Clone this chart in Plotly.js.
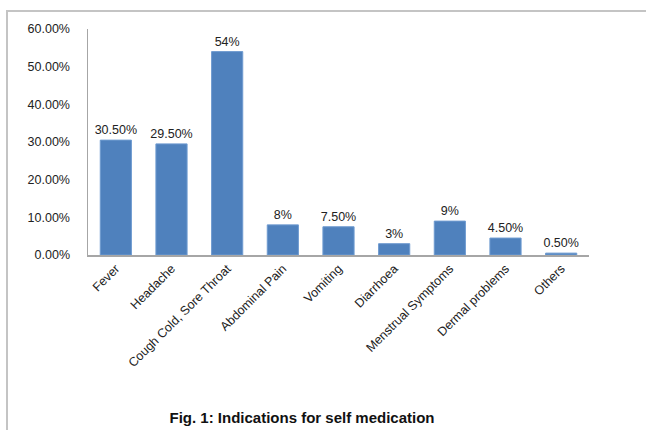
<!DOCTYPE html>
<html>
<head>
<meta charset="utf-8">
<script src="https://cdn.plot.ly/plotly-3.0.1.min.js"></script>
<style>
html,body{margin:0;padding:0;background:#fff;}
#wrap{position:relative;width:646px;height:430px;}
#chart{width:646px;height:430px;}
#frame{position:absolute;left:6px;top:10px;width:640px;height:420px;border-left:2px solid #c4c4c4;border-top:2px solid #c4c4c4;box-sizing:border-box;pointer-events:none;}
</style>
</head>
<body>
<div id="wrap">
<div id="chart"></div>
<div id="frame"></div>
</div>
<script>
const categories = ["Fever", "Headache", "Cough Cold, Sore Throat", "Abdominal Pain", "Vomiting", "Diarrhoea", "Menstrual Symptoms", "Dermal problems", "Others"];
const values = [30.5, 29.5, 54, 8, 7.5, 3, 9, 4.5, 0.5];
const valueLabels = ["30.50%", "29.50%", "54%", "8%", "7.50%", "3%", "9%", "4.50%", "0.50%"];
const tickValues = [0, 10, 20, 30, 40, 50, 60];
const tickLabels = ["0.00%", "10.00%", "20.00%", "30.00%", "40.00%", "50.00%", "60.00%"];
const caption = "Fig. 1: Indications for self medication";

const trace = {
  type: "bar",
  x: categories,
  y: values,
  text: valueLabels,
  textposition: "outside",
  constraintext: "none",
  cliponaxis: false,
  textfont: {family: "Liberation Sans, Arial, sans-serif", size: 12.5, color: "#222"},
  marker: {color: "#4F81BD", line: {color: "#6f9bd0", width: 1}},
  hoverinfo: "none"
};

const layout = {
  width: 646,
  height: 430,
  margin: {l: 88, r: 57, t: 29, b: 175},
  paper_bgcolor: "#fff",
  plot_bgcolor: "#fff",
  bargap: 0.44,
  showlegend: false,
  font: {family: "Liberation Sans, Arial, sans-serif", size: 12, color: "#222"},
  title: {
    text: "<b>" + caption + "</b>",
    font: {family: "Liberation Sans, Arial, sans-serif", size: 15, color: "#111"},
    x: 302 / 646,
    xanchor: "center",
    xref: "container",
    y: 1 - 418 / 430,
    yanchor: "middle",
    yref: "container"
  },
  xaxis: {
    type: "category",
    tickangle: -45,
    showline: true,
    linecolor: "#a6a6a6",
    linewidth: 1.5,
    ticks: "",
    showgrid: false,
    zeroline: false,
    tickfont: {family: "Liberation Sans, Arial, sans-serif", size: 12.5, color: "#222"},
    automargin: false
  },
  yaxis: {
    range: [0, 60],
    tickvals: tickValues,
    ticktext: tickLabels,
    showline: true,
    linecolor: "#a6a6a6",
    linewidth: 1.5,
    ticks: "",
    ticklabelstandoff: 14,
    showgrid: false,
    zeroline: false,
    tickfont: {family: "Liberation Sans, Arial, sans-serif", size: 12.5, color: "#222"},
    automargin: false
  }
};

Plotly.newPlot("chart", [trace], layout, {displayModeBar: false, staticPlot: true});
</script>
</body>
</html>
